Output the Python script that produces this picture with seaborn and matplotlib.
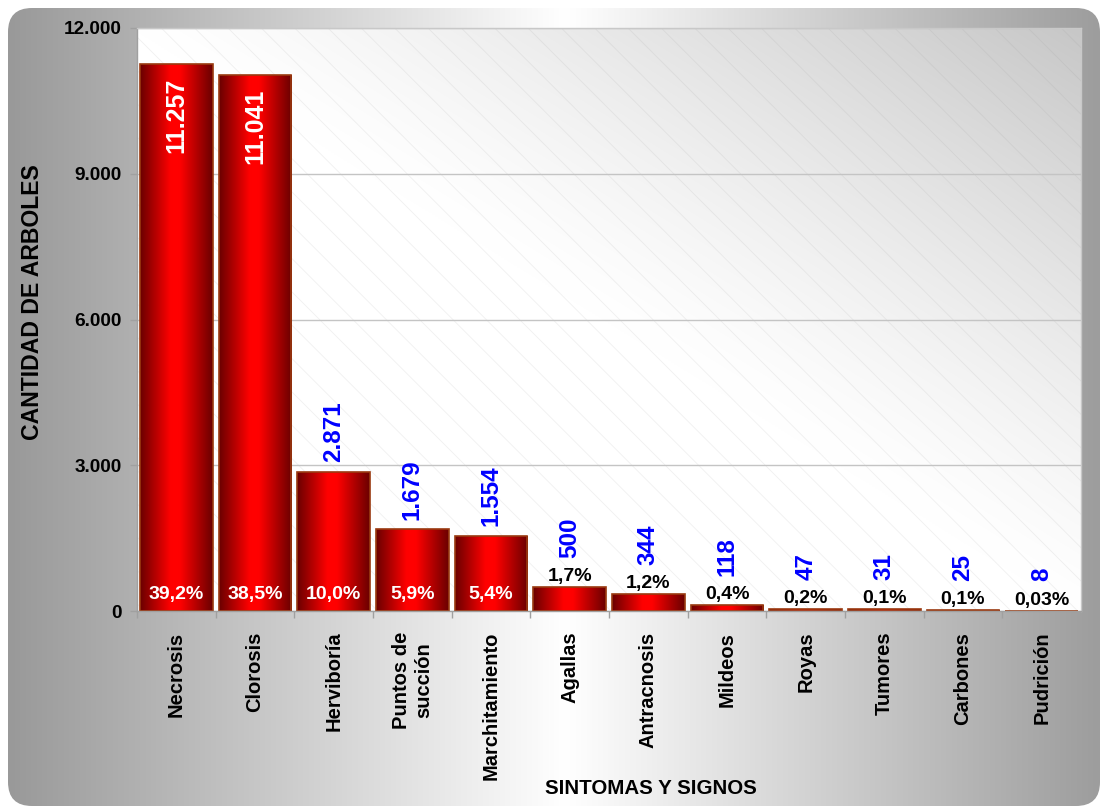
import numpy as np
import pandas as pd
import matplotlib
matplotlib.use("Agg")
import matplotlib.pyplot as plt
import seaborn as sns
from matplotlib.patches import FancyBboxPatch, Rectangle
from matplotlib.colors import LinearSegmentedColormap

# ---- data ----
sintomas = ["Necrosis", "Clorosis", "Herviboría", "Puntos de\nsucción",
            "Marchitamiento", "Agallas", "Antracnosis", "Mildeos", "Royas",
            "Tumores", "Carbones", "Pudrición"]
arboles = [11257, 11041, 2871, 1679, 1554, 500, 344, 118, 47, 31, 25, 8]
porcentajes = ["39,2%", "38,5%", "10,0%", "5,9%", "5,4%", "1,7%", "1,2%",
               "0,4%", "0,2%", "0,1%", "0,1%", "0,03%"]
y_ticks = [0, 3000, 6000, 9000, 12000]
y_tick_labels = ["0", "3.000", "6.000", "9.000", "12.000"]

# ---- style ----
sns.set_theme(style="white")
plt.rcParams["font.family"] = ["Liberation Sans", "DejaVu Sans"]
plt.rcParams["hatch.linewidth"] = 0.6

W, H = 1104, 808
fig = plt.figure(figsize=(W / 100, H / 100), dpi=100, facecolor="white")

# rounded chart frame with a grey-white-grey horizontal gradient
bg = fig.add_axes([0, 0, 1, 1], zorder=0)
bg.axis("off")
xs = np.linspace(0, 1, 400)
cx = 0.51
g = 1 - np.abs(xs - cx) / max(cx, 1 - cx)
shade = 0.60 + 0.40 * g
bg_img = np.dstack([shade, shade, shade]).repeat(2, axis=0)
frame = FancyBboxPatch((8, 8), 1092, 798, boxstyle="round,pad=0,rounding_size=24",
                       facecolor="none", edgecolor="none", transform=bg.transData)
bg.add_patch(frame)
im = bg.imshow(bg_img, extent=[8, 1100, 806, 8], aspect="auto", interpolation="bicubic")
im.set_clip_path(frame)
bg.set_xlim(0, W)
bg.set_ylim(H, 0)

# plot area position
left, right, top, bottom = 137, 1081, 28, 611
pos = [left / W, 1 - bottom / H, (right - left) / W, (bottom - top) / H]

# plot area: diagonal gradient (white lower-left, grey upper-right) + fine hatching
pa = fig.add_axes(pos, zorder=1)
pa.axis("off")
gx, gy = np.meshgrid(np.linspace(0, 1, 300), np.linspace(1, 0, 300))
s = np.clip(gx + gy - 1.0, 0, 1) ** 1.25
pa_shade = 1.0 - 0.22 * s
pa.imshow(np.dstack([pa_shade] * 3), extent=[0, 1, 0, 1], aspect="auto",
          interpolation="bicubic")
pa.add_patch(Rectangle((0, 0), 1, 1, facecolor="none",
                       edgecolor=(0.55, 0.55, 0.55, 0.13), lw=0, hatch="\\"))
pa.set_xlim(0, 1)
pa.set_ylim(0, 1)

# main axes
ax = fig.add_axes(pos, zorder=2)
ax.set_facecolor("none")

df = pd.DataFrame({"sintoma": sintomas, "arboles": arboles})
sns.barplot(data=df, x="sintoma", y="arboles", ax=ax, color="#ff0000",
            saturation=1, width=0.92, edgecolor="#9a3a10", linewidth=1.2)

# cylinder-like shading on each bar
bar_cmap = LinearSegmentedColormap.from_list(
    "barshade", [(0, "#6a0000"), (0.42, "#ff0000"), (0.55, "#ff0000"), (1, "#6a0000")])
grad = np.linspace(0, 1, 256)[None, :]
for patch in ax.patches:
    x0, w = patch.get_x(), patch.get_width()
    h = patch.get_height()
    if h <= 0:
        continue
    patch.set_facecolor("none")
    img = ax.imshow(grad, cmap=bar_cmap, extent=[x0, x0 + w, 0, h], aspect="auto",
                    interpolation="bicubic", zorder=patch.get_zorder() - 0.05)
    img.set_clip_path(patch)

ax.set_xlim(-0.5, len(sintomas) - 0.5)
ax.set_ylim(0, 12000)

# axes, ticks and grid
ax.set_yticks(y_ticks)
ax.set_yticklabels(y_tick_labels, fontsize=13.7, fontweight="bold")
ax.yaxis.grid(True, color="#c4c4c4", lw=1)
ax.xaxis.grid(False)
ax.set_axisbelow(True)
ax.tick_params(axis="y", left=True, length=5, width=1, color="#a0a0a0", pad=6,
               labelcolor="black")

ax.set_xticks(range(len(sintomas)))
ax.set_xticklabels(sintomas, rotation=90, fontsize=14.5, fontweight="bold",
                   ha="center", va="top", multialignment="center")
ax.set_xticks(np.arange(-0.5, len(sintomas), 1), minor=True)
ax.tick_params(axis="x", which="major", bottom=True, length=0, pad=15,
               labelcolor="black")
ax.tick_params(axis="x", which="minor", bottom=True, length=5, width=1, color="#a0a0a0")

for side in ("left", "bottom"):
    ax.spines[side].set_color("#a0a0a0")
    ax.spines[side].set_linewidth(1)
for side in ("top", "right"):
    ax.spines[side].set_color("#c8c8c8")
    ax.spines[side].set_linewidth(1)

ax.set_xlabel("")
ax.set_ylabel("")
fig.text(651 / W, 1 - 789 / H, "SINTOMAS Y SIGNOS", ha="center", va="center",
         fontsize=14.8, fontweight="bold", color="black")
fig.text(33 / W, 1 - 302 / H, "CANTIDAD DE ARBOLES", ha="center", va="center",
         rotation=90, fontsize=16.6, fontweight="bold", color="black")

# value and percentage labels
ymax = 12000
for i, (v, p) in enumerate(zip(arboles, porcentajes)):
    txt = f"{v:,}".replace(",", ".")
    if v > 0.5 * ymax:
        ax.annotate(txt, (i, v), xytext=(0, -10), textcoords="offset points",
                    rotation=90, ha="center", va="top", color="white", fontsize=18,
                    fontweight="bold", zorder=5)
    elif v > 1000:
        ax.annotate(txt, (i, v), xytext=(0, 6.5), textcoords="offset points",
                    rotation=90, ha="center", va="bottom", color="#0000ff",
                    fontsize=17.5, fontweight="bold", zorder=5)
    else:
        ax.annotate(txt, (i, v), xytext=(0, 21), textcoords="offset points",
                    rotation=90, ha="center", va="bottom", color="#0000ff",
                    fontsize=17.5, fontweight="bold", zorder=5)

    if v > 1000:
        ax.annotate(p, (i, 0), xytext=(0, 12), textcoords="offset points",
                    ha="center", va="center", color="white", fontweight="bold",
                    fontsize=14, zorder=5)
    else:
        ax.annotate(p, (i, v), xytext=(0, 1.5), textcoords="offset points",
                    ha="center", va="bottom", color="black", fontweight="bold",
                    fontsize=14, zorder=5)

fig.savefig("out.png", dpi=100, facecolor="white")
